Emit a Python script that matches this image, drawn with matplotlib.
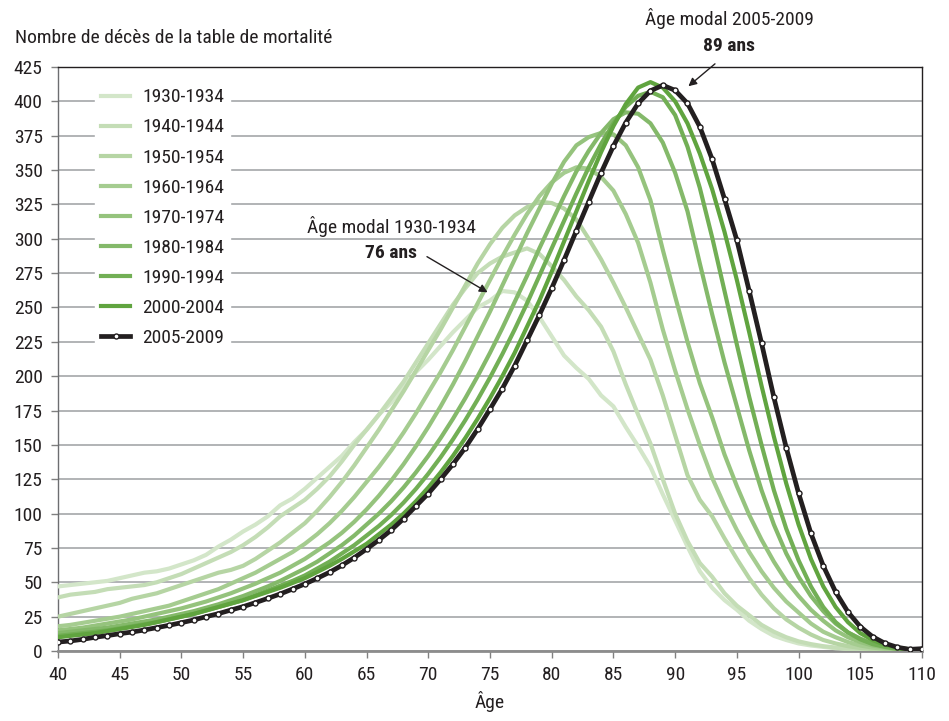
import matplotlib
matplotlib.use("Agg")
import matplotlib.pyplot as plt
from matplotlib import font_manager

# narrow face if there is one, otherwise Liberation Sans
fonts = font_manager.fontManager.ttflist
names = {f.name for f in fonts}
fsize = 12.5
if "Roboto Condensed" in names:
    family, fsize = "Roboto Condensed", 14
elif "Liberation Sans Narrow" in names:
    family, fsize = "Liberation Sans Narrow", 14
elif any(f.name == "DejaVu Sans" and "condensed" in str(f.stretch) for f in fonts):
    family = "DejaVu Sans"
    plt.rcParams["font.stretch"] = "condensed"
    fsize = 13
else:
    family = "Liberation Sans"
plt.rcParams["font.family"] = [family, "DejaVu Sans"]

ages = list(range(40, 111))

p1930 = [47, 48, 49, 50, 51, 53, 55, 57, 58, 60, 63, 66, 70, 76, 81, 87, 92, 98, 106, 111,
         118, 126, 134, 142, 152, 161, 172, 181, 192, 203, 212, 222, 232, 241, 250, 255, 262, 261, 255, 243,
         229, 215, 206, 198, 186, 178, 163, 149, 134, 114, 95, 76, 58, 46, 37, 30, 22, 16, 11, 8,
         5.5, 4, 3, 2, 1.5, 1, 0.7, 0.5, 0.3, 0.2, 0.1]
p1940 = [39, 41, 42, 43, 45, 46, 47, 48, 50, 53, 56, 60, 64, 68, 72, 77, 83, 90, 98, 104,
         110, 118, 127, 138, 150, 161, 172, 184, 196, 210, 224, 238, 252, 264, 275, 282, 287, 290, 293, 289,
         280, 270, 258, 248, 236, 218, 194, 172, 151, 125, 100, 80, 64, 54, 42, 33, 26, 19, 14, 10,
         7, 5, 3.5, 2.5, 1.5, 1, 0.7, 0.5, 0.3, 0.2, 0.1]
p1950 = [25, 27, 29, 31, 33, 35, 38, 40, 42, 45, 48, 51, 54, 57, 59, 62, 67, 73, 79, 86,
         93, 102, 112, 123, 135, 148, 161, 175, 189, 204, 219, 234, 250, 266, 282, 296, 308, 317, 323, 327,
         326, 322, 314, 300, 285, 268, 250, 231, 212, 186, 157, 128, 110, 98, 82, 67, 53, 41, 31, 23,
         17, 12, 8, 5.5, 3.5, 2.2, 1.4, 0.9, 0.5, 0.3, 0.2]
p1960 = [18, 19, 20.5, 22, 23.5, 25, 27, 29, 31, 33, 36, 39, 42, 45, 49, 53, 57, 62, 67, 72,
         78, 85, 93, 102, 112, 123, 134, 146, 159, 173, 188, 203, 219, 236, 253, 270, 287, 303, 318, 331,
         341, 348, 352, 351, 345, 335, 318, 297, 268, 234, 204, 176, 150, 126, 106, 88, 72, 58, 46, 36,
         28, 20, 14, 10, 6.5, 4, 2.5, 1.5, 1, 0.5, 0.3]
p1970 = [15, 16, 17, 18.5, 20, 21.5, 23, 25, 27, 29, 31, 33.5, 36, 39, 42, 45.5, 49, 53, 57, 62,
         67, 73, 79, 86, 94, 103, 113, 124, 136, 149, 163, 178, 194, 211, 229, 247, 266, 285, 304, 322,
         340, 356, 368, 374, 377, 376, 368, 352, 328, 292, 258, 225, 195, 170, 143, 120, 99, 81, 65, 51,
         40, 30, 22, 15, 10, 6.5, 4, 2.5, 1.5, 0.8, 0.4]
p1980 = [13, 14, 15, 16, 17, 18.5, 20, 21.5, 23, 25, 27, 29, 31.5, 34, 37, 40, 43.5, 47, 51, 55.5,
         60, 65, 71, 77, 84, 92, 100, 109, 119, 130, 142, 155, 169, 184, 200, 217, 235, 254, 273, 293,
         312, 331, 349, 364, 377, 387, 392, 391, 384, 370, 348, 320, 282, 245, 210, 178, 146, 117, 92, 71,
         54, 40, 29, 20, 13.5, 9, 5.5, 3.5, 2, 1, 0.5]
p1990 = [11, 12, 13, 14, 15, 16.5, 18, 19.5, 21, 23, 25, 27, 29.5, 32, 34.5, 37, 40.5, 44, 47.5, 51,
         55, 60, 65, 71, 77, 84, 91, 99, 108, 118, 129, 141, 154, 168, 183, 199, 216, 234, 253, 273,
         293, 313, 333, 352, 369, 384, 396, 404, 407, 403, 390, 367, 337, 301, 262, 223, 185, 150, 117, 89,
         66, 47, 32, 21, 13.5, 8.5, 5, 3, 1.5, 0.8, 0.4]
p2000 = [10, 11, 12, 13, 14.5, 16, 17.5, 19, 21, 23, 25, 27, 29.5, 32, 34.5, 37, 40, 43, 46, 49.5,
         53, 57.5, 62, 67, 72.5, 78, 85, 92, 100, 109, 119, 130, 142, 155, 169, 184, 200, 217, 236, 255,
         276, 298, 320, 342, 363, 382, 398, 410, 414, 410, 400, 384, 362, 336, 305, 270, 232, 193, 156, 122,
         92, 67, 47, 32, 21, 13, 8, 4.5, 2.5, 1.2, 0.5]
p2005 = [6.5, 7.3, 8.5, 10, 11.2, 12.6, 13.8, 15.3, 17, 18.7, 20.6, 22.6, 25, 27.2, 29.8, 32.3, 35.2, 38.3, 41.5, 45.1,
         48.8, 52.9, 57.3, 62.3, 67.9, 74.2, 80.8, 88, 96.3, 105.5, 114.6, 125, 136, 148, 161.5, 176, 191, 207.6, 226, 244.5,
         264, 284.5, 305.9, 327, 348, 367.5, 384.5, 398.5, 407.7, 411.7, 408, 398.5, 381.5, 357.8, 329, 299, 262, 224, 184.6, 148,
         114.8, 85.6, 62, 43, 28.4, 17.7, 10.4, 5.6, 2.7, 1.2, 1.7]

labels = ["1930-1934", "1940-1944", "1950-1954", "1960-1964", "1970-1974",
          "1980-1984", "1990-1994", "2000-2004"]
greens = ["#d3e6c9", "#c4ddb6", "#b6d5a4", "#a5cc90", "#95c37d", "#84b96a", "#72af55", "#60a43f"]
series = [p1930, p1940, p1950, p1960, p1970, p1980, p1990, p2000]

txt = "#231f20"
fig = plt.figure(figsize=(9.49, 7.21), dpi=100)
ax = fig.add_axes([58 / 949, 1 - 651 / 721, 864 / 949, 584 / 721])

for vals, lab, col in zip(series, labels, greens):
    ax.plot(ages, vals, color=col, lw=3.0, label=lab, solid_joinstyle="round", zorder=3)
ax.plot(ages, p2005, color="#231f20", lw=3.4, marker="o", ms=3.6, mfc="white",
        mec="#231f20", mew=1.0, label="2005-2009", zorder=4)

ax.set_xlim(40, 110)
ax.set_ylim(0, 425)
ax.set_xticks(range(40, 111, 5))
ax.set_yticks(range(0, 426, 25))
ax.yaxis.grid(True, color="#b1b3b6", lw=1.4)
ax.set_axisbelow(True)
ax.tick_params(labelsize=fsize, colors=txt, length=5, width=1, pad=6)
ax.tick_params(axis="both", color="#808080")

for s in ["top", "right"]:
    ax.spines[s].set_color(txt)
    ax.spines[s].set_linewidth(1.0)
ax.spines["left"].set_color("#6d6e71")
ax.spines["left"].set_linewidth(1.0)
ax.spines["bottom"].set_color("#8c8c8c")
ax.spines["bottom"].set_linewidth(2.0)

ax.set_xlabel("Âge", fontsize=fsize, color=txt, labelpad=5)
fig.text(15 / 949, 1 - 38 / 721, "Nombre de décès de la table de mortalité",
         fontsize=fsize, color=txt, ha="left", va="center")

leg = ax.legend(loc="upper left", bbox_to_anchor=(0.032, 0.99), fontsize=fsize,
                frameon=True, framealpha=1, edgecolor="white", facecolor="white",
                handlelength=1.5, handletextpad=0.6, labelspacing=0.62, borderpad=0.3,
                fancybox=False)
for t in leg.get_texts():
    t.set_color(txt)
leg.set_zorder(5)

ax.text(67, 309, "Âge modal 1930-1934", fontsize=fsize, color=txt, ha="center", va="center")
ax.text(67, 290, "76 ans", fontsize=fsize, color=txt, ha="center", va="center", fontweight="bold")
ax.annotate("", xy=(75, 260), xytext=(69.7, 288),
            arrowprops=dict(arrowstyle="-|>", color=txt, lw=1.0, mutation_scale=12))

ax.text(94.4, 460.6, "Âge modal 2005-2009", fontsize=fsize, color=txt, ha="center", va="center", clip_on=False)
ax.text(94.4, 440, "89 ans", fontsize=fsize, color=txt, ha="center", va="center",
        fontweight="bold", clip_on=False)
ax.annotate("", xy=(90.9, 409.7), xytext=(93.4, 428.6), annotation_clip=False,
            arrowprops=dict(arrowstyle="-|>", color=txt, lw=1.0, mutation_scale=12))

fig.savefig("out.png", dpi=100)
